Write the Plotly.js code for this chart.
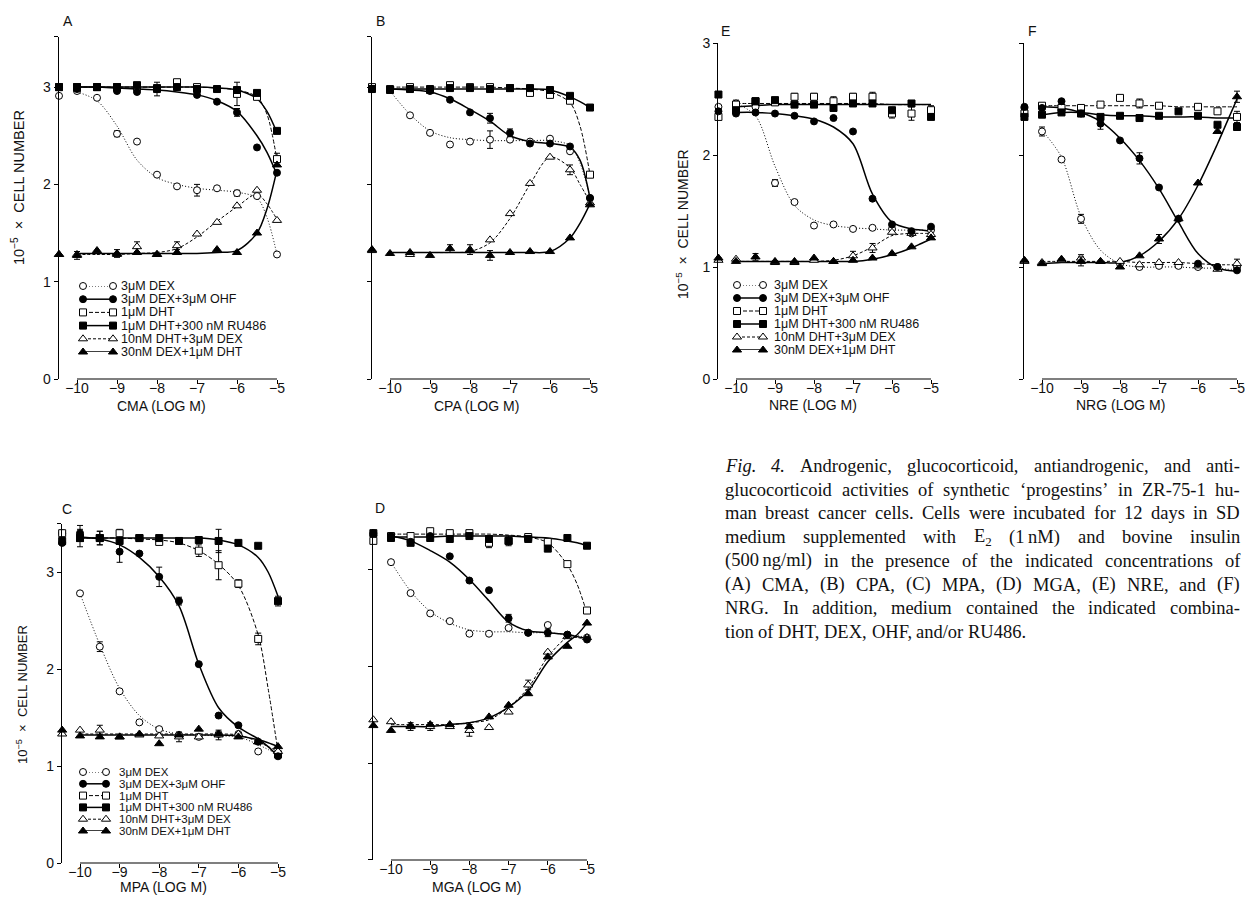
<!DOCTYPE html>
<html><head><meta charset="utf-8">
<script src="https://cdn.plot.ly/plotly-3.0.1.min.js"></script>
<style>html,body{margin:0;padding:0;background:#fff;} #chart{width:1245px;height:899px;}</style>
</head><body><div id="chart"></div><script>
// ---------- DATA ----------
const X  = [-10.45, -10, -9.5, -9, -8.5, -8, -7.5, -7, -6.5, -6, -5.5, -5];   // first = control (no drug)
const XC = [-10, -9.5, -9, -8.5, -8, -7.5, -7, -6.5, -6, -5.5, -5.25, -5];     // fitted-curve read positions
const TICKS_X = [-10, -9, -8, -7, -6, -5];
const SERIES = ['3μM DEX', '3μM DEX+3μM OHF', '1μM DHT', '1μM DHT+300 nM RU486', '10nM DHT+3μM DEX', '30nM DEX+1μM DHT'];
const X_TITLES = {A:'CMA (LOG M)', B:'CPA (LOG M)', C:'MPA (LOG M)', D:'MGA (LOG M)', E:'NRE (LOG M)', F:'NRG (LOG M)'};
const Y_TITLE = '10<sup>−5</sup>\u00a0\u00a0×\u00a0\u00a0CELL NUMBER';

// Panel A (CMA)
const A_DEX = [2.91, 2.96, 2.89, 2.52, 2.44, 2.10, 1.98, 1.94, 1.96, 1.91, 1.88, 1.28];
const A_OHF = [3.00, 2.98, 3.00, 2.96, 2.95, 2.98, 3.00, 2.92, 2.85, 2.74, 2.38, 2.12];
const A_DHT = [3.00, 3.00, 3.00, 3.00, 3.00, 2.98, 3.05, 3.00, null, 2.93, 2.90, 2.26];
const A_RU  = [3.00, 3.00, 3.00, 3.00, 3.02, 2.99, 3.00, 2.98, 2.98, 2.97, 2.94, 2.55];
const A_TO  = [1.28, 1.28, null, 1.28, 1.36, 1.28, 1.37, 1.49, 1.61, 1.78, 1.94, 1.63];
const A_TF  = [1.28, 1.27, 1.32, 1.29, 1.30, 1.28, 1.30, null, 1.33, 1.30, 1.50, 2.20];
const A_DEX_FIT = [2.95, 2.86, 2.60, 2.25, 2.07, 2.00, 1.96, 1.94, 1.92, 1.86, 1.66, 1.28];
const A_OHF_FIT = [3.00, 3.00, 2.99, 2.98, 2.97, 2.95, 2.92, 2.86, 2.75, 2.50, 2.33, 2.10];
const A_DHT_FIT = [3.00, 3.00, 3.00, 3.00, 3.00, 3.00, 3.00, 2.99, 2.97, 2.90, 2.72, 2.25];
const A_RU_FIT  = [3.00, 3.00, 3.00, 3.00, 3.00, 3.00, 3.00, 2.99, 2.97, 2.88, 2.75, 2.53];
const A_TO_FIT  = [1.28, 1.28, 1.28, 1.29, 1.30, 1.34, 1.46, 1.62, 1.77, 1.90, 1.80, 1.64];
const A_TF_FIT  = [1.29, 1.29, 1.29, 1.29, 1.29, 1.29, 1.29, 1.30, 1.32, 1.50, 1.75, 2.15];
const A_DEX_ERR = [null, null, null, 0.03, null, null, null, 0.06, null, 0.03, null, null];
const A_OHF_ERR = [null, null, null, null, null, 0.07, null, null, null, 0.04, null, null];
const A_DHT_ERR = [null, null, null, null, null, null, null, null, null, 0.12, null, 0.06];
const A_TO_ERR  = [null, null, null, null, 0.05, null, 0.04, null, null, null, null, null];
const A_TF_ERR  = [null, 0.04, null, 0.04, null, null, null, null, null, null, null, null];

// Panel B (CPA)
const B_DEX = [2.98, 2.97, 2.71, 2.53, 2.41, 2.44, 2.46, 2.46, 2.44, 2.47, 2.34, 1.86];
const B_OHF = [2.98, 2.97, 2.98, 2.96, 2.87, 2.74, 2.68, 2.53, 2.42, 2.42, 2.39, 1.86];
const B_DHT = [3.00, 2.98, 3.00, 2.97, 3.02, 3.00, 3.00, 2.99, 2.94, 2.92, 2.86, 2.10];
const B_RU  = [2.98, 2.97, 2.98, 2.98, 2.99, 2.99, 2.98, 2.99, 2.99, 2.97, 2.91, 2.79];
const B_TO  = [1.32, null, 1.28, null, null, 1.33, 1.43, 1.70, 2.01, 2.28, 2.15, 1.81];
const B_TF  = [1.33, 1.29, 1.30, 1.27, 1.34, 1.32, 1.27, 1.30, 1.31, 1.31, 1.45, 1.79];
const B_DEX_FIT = [2.96, 2.72, 2.55, 2.48, 2.46, 2.45, 2.45, 2.45, 2.45, 2.40, 2.22, 1.87];
const B_OHF_FIT = [2.98, 2.97, 2.95, 2.88, 2.77, 2.65, 2.50, 2.44, 2.42, 2.38, 2.25, 1.86];
const B_DHT_FIT = [3.00, 3.00, 3.00, 3.00, 3.00, 3.00, 2.99, 2.98, 2.95, 2.84, 2.60, 2.10];
const B_RU_FIT  = [2.98, 2.98, 2.98, 2.98, 2.98, 2.98, 2.98, 2.98, 2.97, 2.90, 2.85, 2.79];
const B_TO_FIT  = [1.30, 1.30, 1.30, 1.30, 1.31, 1.40, 1.65, 2.00, 2.28, 2.17, 2.00, 1.82];
const B_TF_FIT  = [1.30, 1.30, 1.30, 1.30, 1.30, 1.30, 1.30, 1.30, 1.31, 1.45, 1.60, 1.80];
const B_DEX_ERR = [null, null, null, null, null, null, 0.09, null, null, null, null, null];
const B_OHF_ERR = [null, null, null, null, null, null, 0.05, 0.04, null, null, null, null];
const B_TO_ERR  = [null, null, null, null, null, 0.05, null, null, null, null, 0.05, null];
const B_TF_ERR  = [null, null, null, null, 0.04, null, 0.05, null, null, null, null, null];

// Panel C (MPA)
const C_DEX = [3.40, 2.78, 2.23, 1.77, 1.45, 1.38, 1.32, 1.30, 1.33, 1.33, 1.15, 1.12];
const C_OHF = [3.30, 3.40, 3.35, 3.21, 3.19, 2.95, 2.70, 2.05, 1.52, 1.42, 1.25, 1.10];
const C_DHT = [3.40, 3.35, 3.35, 3.40, 3.35, 3.31, null, 3.22, 3.07, 2.88, 2.31, 1.12];
const C_RU  = [3.32, 3.35, 3.35, 3.32, 3.35, 3.35, 3.32, 3.33, 3.32, 3.30, 3.27, 2.70];
const C_TO  = [1.33, 1.37, 1.37, 1.30, 1.32, 1.31, 1.30, 1.30, 1.32, 1.33, 1.25, 1.15];
const C_TF  = [1.37, 1.31, 1.30, 1.30, 1.33, 1.23, 1.32, 1.38, 1.33, 1.30, 1.25, 1.20];
const C_DEX_FIT = [2.78, 2.25, 1.80, 1.52, 1.38, 1.33, 1.32, 1.31, 1.30, 1.22, 1.17, 1.12];
const C_OHF_FIT = [3.36, 3.34, 3.28, 3.15, 2.95, 2.65, 2.05, 1.60, 1.40, 1.28, 1.20, 1.10];
const C_DHT_FIT = [3.35, 3.35, 3.35, 3.34, 3.33, 3.30, 3.22, 3.08, 2.86, 2.35, 1.80, 1.15];
const C_RU_FIT  = [3.35, 3.35, 3.35, 3.35, 3.35, 3.35, 3.35, 3.33, 3.28, 3.15, 3.00, 2.75];
const C_TO_FIT  = [1.33, 1.33, 1.33, 1.33, 1.33, 1.33, 1.33, 1.33, 1.32, 1.25, 1.20, 1.15];
const C_TF_FIT  = [1.32, 1.32, 1.32, 1.32, 1.32, 1.32, 1.32, 1.32, 1.31, 1.27, 1.24, 1.20];
const C_DEX_ERR = [null, null, 0.05, null, null, null, null, null, null, null, null, null];
const C_OHF_ERR = [null, 0.08, 0.07, 0.11, null, 0.10, 0.04, null, null, null, null, null];
const C_DHT_ERR = [null, null, null, 0.04, null, null, null, 0.06, 0.15, 0.04, 0.06, null];
const C_RU_ERR  = [null, 0.09, 0.07, null, null, null, null, null, 0.12, null, null, 0.05];
const C_TO_ERR  = [null, null, 0.05, null, null, null, 0.05, null, 0.05, null, null, null];

// Panel D (MGA)
const D_DEX = [3.36, 3.08, 2.76, 2.55, 2.47, 2.34, 2.34, 2.40, 2.35, 2.43, 2.33, 2.30];
const D_OHF = [3.38, 3.35, 3.29, 3.35, 3.14, 2.89, 2.79, 2.50, 2.35, 2.35, 2.33, 2.28];
const D_DHT = [3.30, 3.35, 3.35, 3.40, 3.38, 3.38, 3.28, 3.30, 3.34, 3.29, 3.06, 2.58];
const D_RU  = [3.38, 3.33, 3.28, 3.33, 3.32, 3.35, 3.32, 3.30, 3.32, 3.22, 3.33, 3.25];
const D_TO  = [1.45, 1.43, 1.38, 1.38, 1.38, 1.34, 1.37, 1.53, 1.81, 2.15, 2.31, 2.30];
const D_TF  = [1.39, 1.34, 1.39, 1.40, 1.40, 1.38, 1.48, 1.60, 1.72, 2.10, 2.21, 2.45];
const D_DEX_FIT = [3.08, 2.78, 2.57, 2.45, 2.38, 2.36, 2.36, 2.35, 2.35, 2.33, 2.32, 2.30];
const D_OHF_FIT = [3.35, 3.30, 3.20, 3.08, 2.90, 2.68, 2.46, 2.37, 2.35, 2.33, 2.31, 2.29];
const D_DHT_FIT = [3.37, 3.37, 3.37, 3.37, 3.37, 3.37, 3.36, 3.34, 3.28, 3.05, 2.85, 2.55];
const D_RU_FIT  = [3.34, 3.34, 3.34, 3.35, 3.35, 3.35, 3.35, 3.34, 3.33, 3.30, 3.28, 3.25];
const D_TO_FIT  = [1.40, 1.40, 1.40, 1.40, 1.42, 1.45, 1.58, 1.78, 2.10, 2.30, 2.30, 2.28];
const D_TF_FIT  = [1.38, 1.38, 1.38, 1.40, 1.42, 1.47, 1.58, 1.75, 2.05, 2.25, 2.33, 2.45];
const D_OHF_ERR = [null, null, null, null, null, null, null, 0.04, null, 0.04, null, null];
const D_DHT_ERR = [null, null, null, 0.04, null, 0.03, 0.05, 0.05, null, null, null, null];
const D_TO_ERR  = [null, null, 0.04, 0.04, null, 0.06, null, null, 0.05, null, null, null];

// Panel E (NRE)
const E_DEX = [2.43, 2.46, 2.43, 1.75, 1.58, 1.37, 1.38, 1.34, 1.35, 1.34, 1.30, 1.33];
const E_OHF = [2.39, 2.37, 2.38, 2.37, 2.35, 2.30, 2.33, 2.21, 1.61, 1.38, 1.32, 1.36];
const E_DHT = [2.34, 2.45, 2.48, 2.47, 2.52, 2.52, 2.48, 2.52, 2.52, 2.37, 2.37, 2.40];
const E_RU  = [2.54, 2.40, 2.48, 2.49, 2.45, 2.45, 2.42, 2.46, 2.46, 2.40, 2.46, 2.34];
const E_TO  = [1.06, 1.07, null, 1.04, 1.04, 1.06, 1.05, 1.10, 1.17, 1.31, 1.30, 1.29];
const E_TF  = [1.08, 1.05, 1.09, 1.05, 1.05, 1.08, 1.05, 1.06, 1.08, 1.12, 1.18, 1.26];
const E_DEX_FIT = [2.46, 2.35, 1.90, 1.55, 1.42, 1.37, 1.35, 1.34, 1.33, 1.33, 1.33, 1.32];
const E_OHF_FIT = [2.38, 2.38, 2.37, 2.35, 2.32, 2.25, 2.10, 1.65, 1.40, 1.34, 1.33, 1.32];
const E_DHT_FIT = [2.46, 2.46, 2.46, 2.46, 2.46, 2.46, 2.46, 2.46, 2.45, 2.45, 2.45, 2.45];
const E_RU_FIT  = [2.43, 2.44, 2.45, 2.45, 2.45, 2.45, 2.45, 2.45, 2.45, 2.45, 2.45, 2.45];
const E_TO_FIT  = [1.05, 1.05, 1.05, 1.05, 1.05, 1.06, 1.10, 1.18, 1.28, 1.30, 1.30, 1.30];
const E_TF_FIT  = [1.05, 1.05, 1.05, 1.05, 1.05, 1.05, 1.05, 1.07, 1.11, 1.17, 1.21, 1.25];
const E_DEX_ERR = [null, 0.03, null, 0.03, null, null, null, null, null, null, null, null];
const E_DHT_ERR = [null, null, null, null, 0.03, 0.03, 0.04, 0.03, 0.04, 0.04, 0.06, 0.04];
const E_TO_ERR  = [null, null, null, null, null, null, null, 0.04, 0.04, null, null, null];
const E_TF_ERR  = [null, null, 0.03, null, null, null, null, null, null, null, null, null];

// Panel F (NRG)
const F_DEX = [2.42, 2.21, 1.96, 1.43, null, 1.03, 1.00, 1.01, 1.01, 1.00, 1.00, 1.00];
const F_OHF = [2.43, 2.42, 2.48, 2.37, 2.28, 2.13, 1.97, 1.71, 1.43, 1.03, 1.00, 0.97];
const F_DHT = [2.37, 2.44, 2.42, 2.42, 2.45, 2.51, 2.46, 2.44, null, 2.43, 2.39, 2.34];
const F_RU  = [2.34, 2.36, 2.38, 2.37, 2.34, 2.35, 2.33, 2.35, 2.39, 2.35, 2.27, 2.25];
const F_TO  = [1.05, 1.04, 1.06, 1.08, 1.05, 1.05, 1.02, 1.04, 1.04, 1.01, 0.98, 1.03];
const F_TF  = [1.06, 1.03, 1.07, 1.05, 1.05, 1.00, 1.10, 1.25, 1.43, 1.75, 2.21, 2.52];
const F_DEX_FIT = [2.22, 1.98, 1.45, 1.15, 1.03, 1.00, 1.00, 1.00, 0.99, 0.99, 0.98, 0.98];
const F_OHF_FIT = [2.43, 2.42, 2.38, 2.30, 2.15, 1.95, 1.70, 1.40, 1.12, 0.99, 0.97, 0.96];
const F_DHT_FIT = [2.44, 2.44, 2.44, 2.44, 2.44, 2.44, 2.44, 2.43, 2.43, 2.43, 2.43, 2.43];
const F_RU_FIT  = [2.36, 2.38, 2.38, 2.36, 2.35, 2.35, 2.34, 2.34, 2.34, 2.33, 2.33, 2.33];
const F_TO_FIT  = [1.05, 1.05, 1.05, 1.05, 1.05, 1.04, 1.04, 1.04, 1.03, 1.02, 1.02, 1.02];
const F_TF_FIT  = [1.03, 1.04, 1.04, 1.04, 1.04, 1.10, 1.23, 1.43, 1.73, 2.10, 2.30, 2.50];
const F_DEX_ERR = [null, 0.04, null, 0.04, null, null, null, null, null, null, null, null];
const F_OHF_ERR = [null, null, null, null, 0.05, null, 0.05, null, null, null, null, null];
const F_DHT_ERR = [null, null, null, null, null, null, 0.04, null, null, null, null, 0.05];
const F_TO_ERR  = [null, null, null, 0.03, null, null, null, null, null, null, null, 0.04];
const F_TF_ERR  = [null, null, null, 0.04, null, null, null, 0.04, null, null, null, 0.05];

const CAPTION = [
  '<i>Fig.</i> <i>4.</i> Androgenic, glucocorticoid, antiandrogenic, and anti-',
  'glucocorticoid activities of synthetic ‘progestins’ in ZR-75-1 hu-',
  'man breast cancer cells. Cells were incubated for 12 days in SD',
  'medium supplemented with E<sub>2</sub> (1\u2009nM) and bovine insulin',
  '(500\u2009ng/ml) in the presence of the indicated concentrations of',
  '(A) CMA, (B) CPA, (C) MPA, (D) MGA, (E) NRE, and (F)',
  'NRG. In addition, medium contained the indicated combina-',
  'tion of DHT, DEX, OHF, and/or RU486.'
];

// ---------- TABLES BUILT FROM DATA ----------
const PANEL_DATA = {
  A: {pts:[A_DEX,A_OHF,A_DHT,A_RU,A_TO,A_TF], fit:[A_DEX_FIT,A_OHF_FIT,A_DHT_FIT,A_RU_FIT,A_TO_FIT,A_TF_FIT],
      err:[A_DEX_ERR,A_OHF_ERR,A_DHT_ERR,null,A_TO_ERR,A_TF_ERR]},
  B: {pts:[B_DEX,B_OHF,B_DHT,B_RU,B_TO,B_TF], fit:[B_DEX_FIT,B_OHF_FIT,B_DHT_FIT,B_RU_FIT,B_TO_FIT,B_TF_FIT],
      err:[B_DEX_ERR,B_OHF_ERR,null,null,B_TO_ERR,B_TF_ERR]},
  C: {pts:[C_DEX,C_OHF,C_DHT,C_RU,C_TO,C_TF], fit:[C_DEX_FIT,C_OHF_FIT,C_DHT_FIT,C_RU_FIT,C_TO_FIT,C_TF_FIT],
      err:[C_DEX_ERR,C_OHF_ERR,C_DHT_ERR,C_RU_ERR,C_TO_ERR,null]},
  D: {pts:[D_DEX,D_OHF,D_DHT,D_RU,D_TO,D_TF], fit:[D_DEX_FIT,D_OHF_FIT,D_DHT_FIT,D_RU_FIT,D_TO_FIT,D_TF_FIT],
      err:[null,D_OHF_ERR,D_DHT_ERR,null,D_TO_ERR,null]},
  E: {pts:[E_DEX,E_OHF,E_DHT,E_RU,E_TO,E_TF], fit:[E_DEX_FIT,E_OHF_FIT,E_DHT_FIT,E_RU_FIT,E_TO_FIT,E_TF_FIT],
      err:[E_DEX_ERR,null,E_DHT_ERR,null,E_TO_ERR,E_TF_ERR]},
  F: {pts:[F_DEX,F_OHF,F_DHT,F_RU,F_TO,F_TF], fit:[F_DEX_FIT,F_OHF_FIT,F_DHT_FIT,F_RU_FIT,F_TO_FIT,F_TF_FIT],
      err:[F_DEX_ERR,F_OHF_ERR,F_DHT_ERR,null,F_TO_ERR,F_TF_ERR]}
};

// ---------- GEOMETRY / STYLE ----------
const W = 1245, H = 899;
const fx = p => p / W, fy = p => 1 - p / H;
const SANS = 'Liberation Sans, Arial, sans-serif';
const SERIF = 'Liberation Serif';

// pixel geometry: px10/px5 = pixel of x=-10/-5 ; y0 = pixel of y=0 ; ppu = px per unit
const GEOM = {
  A: {n:1, px10:77,  px5:277,  y0:379, ppu:97.3, ytop:3.52, labels:true,  topTick:true,
      lab:[68,21], xt:[161,406], yt:[18,188,14.5]},
  B: {n:2, px10:390, px5:590,  y0:379, ppu:97.3, ytop:3.52, labels:false, topTick:true,
      lab:[380,21], xt:[476,406]},
  C: {n:3, px10:80,  px5:278,  y0:863, ppu:97.0, ytop:3.50, labels:true,  topTick:true,
      lab:[67,509], xt:[163,887], yt:[22,695,13]},
  D: {n:4, px10:391, px5:587,  y0:860, ppu:96.7, ytop:3.42, labels:false, topTick:false,
      lab:[380,508], xt:[476,887]},
  E: {n:5, px10:736, px5:931,  y0:379, ppu:112.0, ytop:3.0, labels:true,  topTick:false,
      lab:[725,31], xt:[813,405], yt:[682,224,14]},
  F: {n:6, px10:1042, px5:1237, y0:379, ppu:112.0, ytop:3.0, labels:false, topTick:false,
      lab:[1032,31], xt:[1120,405]}
};
const LEGENDS = [
  {n:7, panel:'A', x0:83, x1:113, yTop:286, yBot:352, textGap:8,  fs:12.5},
  {n:8, panel:'C', x0:83, x1:106, yTop:772, yBot:831, textGap:13, fs:11.5},
  {n:9, panel:'E', x0:737, x1:763, yTop:285, yBot:350, textGap:11, fs:12.5}
];
const STYLES = [
  {sym:'circle',      fill:'#fff', dash:'1px,2px', lw:1.0, size:7},
  {sym:'circle',      fill:'#000', dash:'solid',   lw:1.5, size:7},
  {sym:'square',      fill:'#fff', dash:'4px,2px', lw:1.0, size:7},
  {sym:'square',      fill:'#000', dash:'solid',   lw:1.5, size:7},
  {sym:'triangle-up', fill:'#fff', dash:'3px,2px', lw:1.0, size:8},
  {sym:'triangle-up', fill:'#000', dash:'solid',   lw:1.5, size:8}
];
const MARKER_ORDER = [0, 2, 4, 1, 3, 5];
const XMIN = -10.45, XMAX = -4.9;
const TICKFONT = {family: SANS, size: 14, color: '#111'};

const traces = [], shapes = [], annotations = [];
const layout = {
  width: W, height: H, margin: {l:0, r:0, t:0, b:0},
  paper_bgcolor: '#fff', plot_bgcolor: 'rgba(0,0,0,0)',
  showlegend: false, font: {family: SANS, color: '#111', size: 12}
};

Object.keys(GEOM).forEach(key => {
  const g = GEOM[key], d = PANEL_DATA[key];
  const ppd = (g.px5 - g.px10) / 5;
  const pxAt = v => g.px10 + (v + 10) * ppd;
  const xs = g.n === 1 ? '' : g.n;
  const xa = 'x' + xs, ya = 'y' + xs;
  const ticksY = [0, 1, 2, 3].concat(g.topTick ? [g.ytop] : []);
  layout['xaxis' + xs] = {
    domain: [fx(pxAt(XMIN)), fx(pxAt(XMAX))], range: [XMIN, XMAX], anchor: ya,
    tickmode: 'array', tickvals: TICKS_X, ticks: 'outside', ticklen: 4, tickwidth: 1, tickcolor: '#000',
    ticklabelstandoff: -8, ticklabeloverflow: 'allow',
    showline: false, zeroline: false, showgrid: false, tickfont: TICKFONT, fixedrange: true
  };
  layout['yaxis' + xs] = {
    domain: [fy(g.y0), fy(g.y0 - g.ytop * g.ppu)], range: [0, g.ytop], anchor: xa,
    tickmode: 'array', tickvals: ticksY, ticktext: ticksY.map(v => Number.isInteger(v) ? String(v) : ' '),
    showticklabels: g.labels, ticks: 'outside', ticklen: 4, tickwidth: 1, tickcolor: '#000',
    showline: true, linecolor: '#000', linewidth: 1.3, zeroline: false, showgrid: false,
    tickfont: TICKFONT, fixedrange: true
  };
  // x-axis line only spans the drug concentrations
  shapes.push({type:'line', xref: xa, yref: ya + ' domain', x0: TICKS_X[0], x1: TICKS_X[TICKS_X.length-1], y0: 0, y1: 0,
               line: {color:'#000', width:1.2}});
  // fitted curves
  d.fit.forEach((arr, i) => {
    const s = STYLES[i];
    traces.push({x: XC, y: arr, xaxis: xa, yaxis: ya, mode: 'lines', hoverinfo: 'skip',
      line: {color:'#000', width: s.lw, dash: s.dash, shape: 'spline', smoothing: 0.9}});
  });
  // data points with error bars
  MARKER_ORDER.forEach(i => {
    const s = STYLES[i];
    const t = {x: X, y: d.pts[i], xaxis: xa, yaxis: ya, mode: 'markers', name: SERIES[i], cliponaxis: false,
      marker: {symbol: s.sym, size: s.size, color: s.fill, line: {color:'#000', width: 1}}};
    if (d.err[i]) t.error_y = {type:'data', array: d.err[i], visible: true, color:'#000', thickness: 1, width: 3};
    traces.push(t);
  });
  // panel letter, axis titles
  annotations.push({xref:'paper', yref:'paper', x: fx(g.lab[0]), y: fy(g.lab[1]), text: key, showarrow:false,
    font:{family: SANS, size: 14, color:'#111'}, xanchor:'center', yanchor:'middle'});
  annotations.push({xref:'paper', yref:'paper', x: fx(g.xt[0]), y: fy(g.xt[1]), text: X_TITLES[key], showarrow:false,
    font:{family: SANS, size: 14, color:'#111'}, xanchor:'center', yanchor:'middle'});
  if (g.yt) {
    annotations.push({xref:'paper', yref:'paper', x: fx(g.yt[0]), y: fy(g.yt[1]), textangle: -90,
      text: Y_TITLE, showarrow:false,
      font:{family: SANS, size: g.yt[2], color:'#111'}, xanchor:'center', yanchor:'middle'});
  }
});

// legends drawn on their own small hidden axes
const LEG_X = [0, 1];
LEGENDS.forEach(L => {
  const xa = 'x' + L.n, ya = 'y' + L.n;
  layout['xaxis' + L.n] = {domain: [fx(L.x0), fx(L.x1)], range: [0, 1], visible: false, anchor: ya, fixedrange: true};
  layout['yaxis' + L.n] = {domain: [fy(L.yBot), fy(L.yTop)], range: [SERIES.length - 1, 0], visible: false, anchor: xa, fixedrange: true};
  SERIES.forEach((name, i) => {
    const s = STYLES[i];
    traces.push({x: LEG_X, y: [i, i], xaxis: xa, yaxis: ya, mode: 'lines+markers', cliponaxis: false, hoverinfo: 'skip',
      line: {color:'#000', width: s.lw, dash: s.dash},
      marker: {symbol: s.sym, size: s.size, color: s.fill, line: {color:'#000', width: 1}}});
    annotations.push({xref: xa, yref: ya, x: 1, y: i, xshift: L.textGap, text: name, showarrow: false,
      xanchor: 'left', yanchor: 'middle', font: {family: SANS, size: L.fs, color: '#111'}, borderpad: 0, borderwidth: 0});
  });
});

// justified caption, word by word
const CAP = {x0: 725, x1: 1240, y0: 466, dy: 23.7, size: 18.5};
const ctx = document.createElement('canvas').getContext('2d');
function measure(tok) {
  let w = 0;
  tok.split(/(<i>.*?<\/i>|<sub>.*?<\/sub>)/).forEach(p => {
    if (!p) return;
    let m;
    if ((m = p.match(/^<i>(.*)<\/i>$/))) { ctx.font = `italic ${CAP.size}px "${SERIF}"`; w += ctx.measureText(m[1]).width; }
    else if ((m = p.match(/^<sub>(.*)<\/sub>$/))) { ctx.font = `${CAP.size * 0.7}px "${SERIF}"`; w += ctx.measureText(m[1]).width; }
    else { ctx.font = `${CAP.size}px "${SERIF}"`; w += ctx.measureText(p).width; }
  });
  return w;
}
ctx.font = `${CAP.size}px "${SERIF}"`;
const SPACE = ctx.measureText(' ').width;
CAPTION.forEach((line, li) => {
  const toks = line.split(' ');
  const widths = toks.map(measure);
  const total = widths.reduce((a, b) => a + b, 0);
  const last = li === CAPTION.length - 1;
  const gap = last ? SPACE : (CAP.x1 - CAP.x0 - total) / (toks.length - 1);
  let x = CAP.x0;
  toks.forEach((t, k) => {
    annotations.push({xref:'paper', yref:'paper', x: fx(x), y: fy(CAP.y0 + li * CAP.dy), text: t, showarrow:false,
      xanchor:'left', yanchor:'middle', borderpad: 0, borderwidth: 0,
      font:{family: SERIF, size: CAP.size, color:'#111'}});
    x += widths[k] + gap;
  });
});

layout.shapes = shapes;
layout.annotations = annotations;
Plotly.newPlot('chart', traces, layout, {staticPlot: true, displayModeBar: false});
</script></body></html>
